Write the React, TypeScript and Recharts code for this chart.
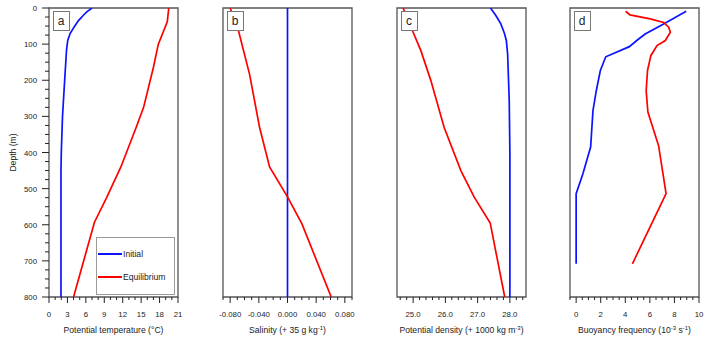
import React from 'react'
import { LineChart, Line, XAxis, YAxis, ReferenceArea, Legend } from 'recharts'

const FONT = '"Liberation Sans", Arial, Helvetica, sans-serif'
const BLUE = '#0a14ff'
const RED = '#ff0000'
const INK = '#222222'
const FRAME = '#555555'

// profiles: depth (m) and value
const tempInitDepth = [0, 10, 20, 35, 50, 70, 90, 117, 200, 300, 400, 450, 800]
const tempInit = [7.0, 6.2, 5.6, 4.8, 4.2, 3.45, 3.05, 2.85, 2.55, 2.2, 2.0, 1.95, 1.95]
const tempEqDepth = [0, 38, 100, 164, 275, 330, 440, 524, 593, 800]
const tempEq = [19.5, 19.25, 17.8, 17.0, 15.4, 14.2, 11.7, 9.4, 7.4, 4.0]

const salInitDepth = [0, 800]
const salInit = [0, 0]
const salEqDepth = [0, 58, 183, 330, 440, 523, 597, 800]
const salEq = [-0.080, -0.069, -0.053, -0.039, -0.025, 0.0, 0.020, 0.061]

const denInitDepth = [0, 20, 44, 70, 90, 127, 256, 400, 800]
const denInit = [27.4, 27.56, 27.72, 27.83, 27.89, 27.93, 27.98, 28.0, 28.0]
const denEqDepth = [0, 63, 118, 201, 330, 450, 523, 595, 800]
const denEq = [24.69, 24.98, 25.24, 25.55, 25.96, 26.48, 26.89, 27.39, 27.84]

const buoyInitDepth = [9, 44, 72, 88, 107, 135, 173, 229, 284, 385, 459, 514, 708]
const buoyInit = [8.96, 7.12, 5.62, 5.01, 4.33, 2.41, 1.97, 1.64, 1.37, 1.18, 0.55, 0, 0]
const buoyEqDepth = [9, 19, 30, 40, 53, 67, 90, 104, 132, 173, 229, 288, 381, 514, 708]
const buoyEq = [4.03, 4.38, 6.03, 7.12, 7.53, 7.67, 7.26, 6.58, 6.08, 5.81, 5.7, 5.84, 6.71, 7.32, 4.58]

// axis ticks
const depthMajors = [0, 100, 200, 300, 400, 500, 600, 700, 800]
const tempMajors = [0, 3, 6, 9, 12, 15, 18, 21]
const salMajors = [-0.08, -0.04, 0, 0.04, 0.08]
const denMajors = [25, 26, 27, 28]
const buoyMajors = [0, 2, 4, 6, 8, 10]

const steps = (start: number, end: number, step: number) => {
  const n = Math.round((end - start) / step)
  return Array.from({ length: n + 1 }, (_, i) => Math.round((start + i * step) * 1e6) / 1e6)
}

const rows = (depth: number[], vals: number[]) => depth.map((d, i) => ({ depth: d, v: vals[i] }))

const isMajor = (v: number, majors: number[]) => majors.some((m) => Math.abs(m - v) < 1e-6)

const XTick = ({ x, y, payload, majors, fmt }: any) => {
  const major = isMajor(payload.value, majors)
  return (
    <g>
      <line x1={x} y1={y} x2={x} y2={y + (major ? 6 : 3)} stroke={INK} strokeWidth={1} />
      {major && (
        <text x={x} y={y + 20} textAnchor="middle" fontSize={7.8} fontFamily={FONT} fill={INK}>
          {fmt(payload.value)}
        </text>
      )}
    </g>
  )
}

const YTick = ({ x, y, payload }: any) => {
  const major = isMajor(payload.value, depthMajors)
  return (
    <g>
      <line x1={x - (major ? 7 : 4)} y1={y} x2={x} y2={y} stroke={INK} strokeWidth={1} />
      {major && (
        <text x={x - 12} y={y + 3} textAnchor="end" fontSize={7.8} fontFamily={FONT} fill={INK}>
          {payload.value}
        </text>
      )}
    </g>
  )
}

const sup = (base: string, exp: string, tail: string) => (
  <>
    <tspan>{base}</tspan>
    <tspan dy={-3} fontSize={6}>{exp}</tspan>
    <tspan dy={3}>{tail}</tspan>
  </>
)

const LegendBox = ({ items }: { items: Series[] }) => (
  <div
    style={{
      width: 77,
      height: 52,
      border: '1.5px solid #9a9a9a',
      background: '#fff',
      fontFamily: FONT,
      fontSize: 8.6,
      color: INK,
      paddingTop: 4,
      boxSizing: 'content-box',
    }}
  >
    {items.map((s) => (
      <div key={s.name} style={{ display: 'flex', alignItems: 'center', height: 23 }}>
        <span style={{ display: 'inline-block', width: 24, marginLeft: 1, borderTop: `2px solid ${s.color}` }} />
        <span style={{ marginLeft: 1 }}>{s.name}</span>
      </div>
    ))}
  </div>
)

const PLOT_W = 129
const ML = 45
const MR = 12
const CHART_W = ML + PLOT_W + MR
const CHART_H = 345

type Series = { name: string; color: string; depth: number[]; vals: number[] }

type Panel = {
  letter: string
  plotLeft: number
  domain: [number, number]
  ticks: number[]
  majors: number[]
  fmt: (v: number) => string
  title: React.ReactNode
  series: Series[]
  depthAxis?: boolean
  legend?: boolean
}

const panels: Panel[] = [
  {
    letter: 'a',
    plotLeft: 49,
    domain: [0, 21],
    ticks: steps(0, 21, 1),
    majors: tempMajors,
    fmt: (v) => String(v),
    title: 'Potential temperature (°C)',
    series: [
      { name: 'Initial', color: BLUE, depth: tempInitDepth, vals: tempInit },
      { name: 'Equilibrium', color: RED, depth: tempEqDepth, vals: tempEq },
    ],
    depthAxis: true,
    legend: true,
  },
  {
    letter: 'b',
    plotLeft: 223,
    domain: [-0.09, 0.09],
    ticks: steps(-0.09, 0.09, 0.01),
    majors: salMajors,
    fmt: (v) => v.toFixed(3),
    title: sup('Salinity (+ 35 g kg', '-1', ')'),
    series: [
      { name: 'Initial', color: BLUE, depth: salInitDepth, vals: salInit },
      { name: 'Equilibrium', color: RED, depth: salEqDepth, vals: salEq },
    ],
  },
  {
    letter: 'c',
    plotLeft: 397,
    domain: [24.5, 28.5],
    ticks: steps(24.6, 28.4, 0.2),
    majors: denMajors,
    fmt: (v) => v.toFixed(1),
    title: sup('Potential density (+ 1000 kg m', '-3', ')'),
    series: [
      { name: 'Initial', color: BLUE, depth: denInitDepth, vals: denInit },
      { name: 'Equilibrium', color: RED, depth: denEqDepth, vals: denEq },
    ],
  },
  {
    letter: 'd',
    plotLeft: 570,
    domain: [-0.5, 10],
    ticks: steps(-0.5, 10, 0.5),
    majors: buoyMajors,
    fmt: (v) => String(v),
    title: (
      <>
        <tspan>Buoyancy frequency (10</tspan>
        <tspan dy={-3} fontSize={6}>-3</tspan>
        <tspan dy={3}> s</tspan>
        <tspan dy={-3} fontSize={6}>-1</tspan>
        <tspan dy={3}>)</tspan>
      </>
    ),
    series: [
      { name: 'Initial', color: BLUE, depth: buoyInitDepth, vals: buoyInit },
      { name: 'Equilibrium', color: RED, depth: buoyEqDepth, vals: buoyEq },
    ],
  },
]

function ProfilePanel({ p }: { p: Panel }) {
  const left = p.plotLeft - ML
  return (
    <div style={{ position: 'absolute', left, top: 0, width: CHART_W, height: CHART_H }}>
      <LineChart
        layout="vertical"
        width={CHART_W}
        height={CHART_H}
        margin={{ top: 8, right: MR, bottom: 0, left: p.depthAxis ? 5 : ML }}
      >
        <XAxis
          type="number"
          dataKey="v"
          domain={p.domain}
          ticks={p.ticks}
          interval={0}
          allowDataOverflow
          height={48}
          axisLine={false}
          tickLine={false}
          tickSize={0}
          tickMargin={0}
          tick={(t: any) => <XTick {...t} majors={p.majors} fmt={p.fmt} />}
          label={{
            content: ({ viewBox }: any) => (
              <text
                x={viewBox.x + viewBox.width / 2}
                y={viewBox.y + 36}
                textAnchor="middle"
                fontSize={8.6}
                fontFamily={FONT}
                fill={INK}
              >
                {p.title}
              </text>
            ),
          }}
        />
        <YAxis
          type="number"
          dataKey="depth"
          domain={[0, 800]}
          ticks={steps(0, 800, 25)}
          interval={0}
          allowDataOverflow
          hide={!p.depthAxis}
          width={40}
          axisLine={false}
          tickLine={false}
          tickSize={0}
          tickMargin={0}
          tick={(t: any) => <YTick {...t} />}
          label={{
            content: ({ viewBox }: any) => {
              const x = viewBox.x + 7
              const y = viewBox.y + viewBox.height / 2
              return (
                <text
                  x={x}
                  y={y}
                  transform={`rotate(-90 ${x} ${y})`}
                  textAnchor="middle"
                  fontSize={8.6}
                  fontFamily={FONT}
                  fill={INK}
                >
                  Depth (m)
                </text>
              )
            },
          }}
        />
        <ReferenceArea
          x1={p.domain[0]}
          x2={p.domain[1]}
          y1={0}
          y2={800}
          ifOverflow="visible"
          fill="none"
          fillOpacity={0}
          stroke={FRAME}
          strokeWidth={1.3}
        />
        {p.series.map((s) => (
          <Line
            key={s.name}
            name={s.name}
            data={rows(s.depth, s.vals)}
            dataKey="v"
            type="linear"
            stroke={s.color}
            strokeWidth={1.7}
            dot={false}
            isAnimationActive={false}
          />
        ))}
        {p.legend && (
          <Legend
            layout="vertical"
            align="center"
            verticalAlign="middle"
            content={() => <LegendBox items={p.series} />}
            wrapperStyle={{ left: 96 - left, top: 237, width: 80 }}
          />
        )}
      </LineChart>
      {/* panel letter sits above the profiles */}
      <div
        style={{
          position: 'absolute',
          left: ML + 3.5,
          top: 11,
          width: 17,
          height: 20,
          boxSizing: 'border-box',
          border: '1px solid #777',
          background: '#fff',
          fontFamily: FONT,
          fontSize: 12,
          lineHeight: '18px',
          textAlign: 'center',
          color: INK,
        }}
      >
        {p.letter}
      </div>
    </div>
  )
}

export default function App() {
  return (
    <div style={{ position: 'absolute', left: 0, top: 0, width: 714, height: 345, background: '#fff' }}>
      {panels.map((p) => (
        <ProfilePanel key={p.letter} p={p} />
      ))}
    </div>
  )
}
